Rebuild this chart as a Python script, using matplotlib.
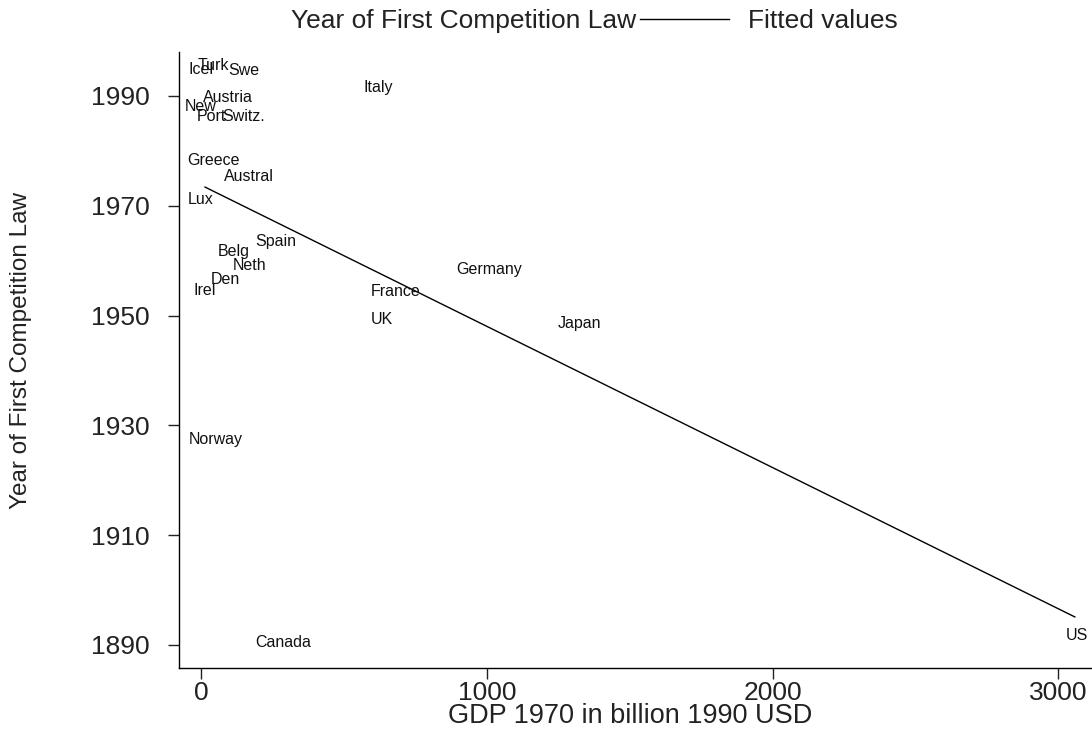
import matplotlib
matplotlib.use("Agg")
import matplotlib.pyplot as plt
from matplotlib.lines import Line2D

plt.rcParams['font.family'] = ['Liberation Sans', 'DejaVu Sans']

# country labels, GDP 1970 (bn 1990 USD), year of first competition law
countries = ["Icel", "Turk", "Swe", "Austria", "New", "Port", "Switz.", "Italy",
             "Greece", "Austral", "Lux", "Spain", "Belg", "Neth", "Den", "Irel",
             "Germany", "France", "UK", "Japan", "Norway", "Canada", "US"]
gdp = [0, 45, 150, 94, -3, 38, 150, 619,
       45, 168, 0, 262, 115, 171, 87, 14,
       1008, 682, 633, 1323, 52, 287, 3065]
year = [1994.9, 1995.5, 1994.6, 1989.8, 1988.0, 1986.2, 1986.2, 1991.5,
        1978.2, 1975.4, 1971.2, 1963.4, 1961.6, 1959.2, 1956.5, 1954.5,
        1958.3, 1954.3, 1949.2, 1948.5, 1927.5, 1890.5, 1891.8]

# fitted values
fit_x = [14, 3058]
fit_y = [1973.4, 1895.1]

fig = plt.figure(figsize=(10.92, 7.34), dpi=100)
ax = fig.add_axes([179/1092, 1 - 668/734, 1 - 179/1092, (668 - 52)/734])

for name, x, y in zip(countries, gdp, year):
    ax.text(x, y, name, ha='center', va='center', fontsize=11.5, color='#111111')

ax.plot(fit_x, fit_y, color='black', lw=1.0)

ax.set_xlim(-77, 3118)
ax.set_ylim(1885.8, 1998.0)
ax.set_xticks([0, 1000, 2000, 3000])
ax.set_yticks([1890, 1910, 1930, 1950, 1970, 1990])

for s in ['top', 'right']:
    ax.spines[s].set_visible(False)
for s in ['left', 'bottom']:
    ax.spines[s].set_linewidth(1.0)
ax.tick_params(direction='out', length=8, width=1.0, labelsize=19, colors='#222222')
ax.tick_params(axis='x', pad=1)
ax.tick_params(axis='y', pad=13)

ax.set_xlabel("GDP 1970 in billion 1990 USD", fontsize=19.5, color='#222222')
ax.xaxis.set_label_coords(0.494, -0.057)
ax.set_ylabel("Year of First Competition Law", fontsize=17.5, color='#222222')
ax.yaxis.set_label_coords(-0.161, 0.516)

handles = [Line2D([], [], linestyle='none'), Line2D([], [], color='black', lw=1.0)]
leg = fig.legend(handles, ["Year of First Competition Law", "Fitted values"], ncol=2,
                 loc='center', bbox_to_anchor=(540/1092, 1 - 21/734), frameon=False,
                 fontsize=19, handlelength=3.4, handletextpad=0.72, columnspacing=0.15)
for t in leg.get_texts():
    t.set_color('#222222')

fig.savefig("out.png", dpi=100)
